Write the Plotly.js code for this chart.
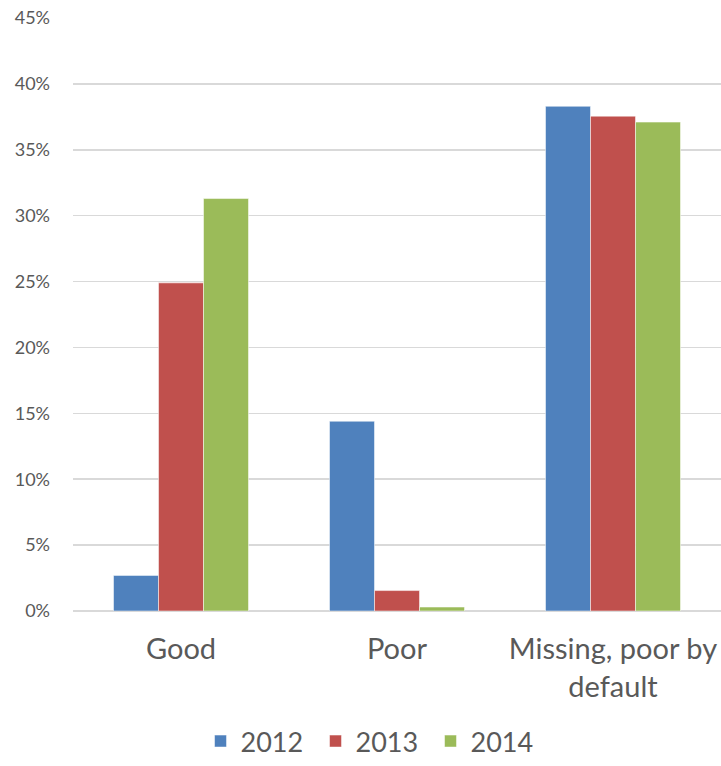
<!DOCTYPE html>
<html><head><meta charset="utf-8">
<script src="https://cdn.plot.ly/plotly-3.0.1.min.js"></script>
<style>body{margin:0;padding:0;background:#fff}#chart{width:721px;height:766px}</style>
</head><body><div id="chart"></div>
<script>
const categories = ["Good", "Poor", "Missing, poor by<br>default"];
const series = ["2012", "2013", "2014"];
const values2012 = [0.027, 0.144, 0.383];
const values2013 = [0.249, 0.0155, 0.3755];
const values2014 = [0.313, 0.003, 0.371];
const colors = ["#4f81bd", "#c0504d", "#9bbb59"];
const tickVals = [0, 0.05, 0.10, 0.15, 0.20, 0.25, 0.30, 0.35, 0.40, 0.45];
const tickText = ["0%", "5%", "10%", "15%", "20%", "25%", "30%", "35%", "40%", "45%"];
const allVals = [values2012, values2013, values2014];
const font = "Lato, 'Open Sans', sans-serif";
const traces = series.map((s, i) => ({
  type: "bar", name: s, x: categories, y: allVals[i],
  marker: {color: colors[i], line: {color: "rgba(255,255,255,0.5)", width: 1}},
  hoverinfo: "none"
}));
const layout = {
  width: 721, height: 766,
  margin: {l: 73, r: 0, t: 18, b: 155},
  barmode: "group", bargap: 0.375, bargroupgap: 0,
  paper_bgcolor: "#fff", plot_bgcolor: "#fff",
  font: {family: font, color: "#595959"},
  xaxis: {tickfont: {size: 29, color: "#595959"}, showline: false, ticks: "", showgrid: false, zeroline: false, ticklabelstandoff: 18, automargin: false},
  yaxis: {range: [0, 0.45], tickvals: tickVals, ticktext: tickText, tickfont: {size: 18, color: "#595959"},
    gridcolor: "#d9d9d9", gridwidth: 1.5, zeroline: true, zerolinecolor: "#d9d9d9", zerolinewidth: 1.5, ticks: "", ticklabelstandoff: 22, automargin: false},
  legend: {orientation: "h", x: 0.463, xanchor: "center", xref: "paper", yref: "container", y: -0.004, yanchor: "bottom",
    font: {size: 27, color: "#595959"}, entrywidth: 70, entrywidthmode: "pixels", traceorder: "normal"},
  showlegend: true
};
Plotly.newPlot("chart", traces, layout, {staticPlot: true});
</script></body></html>
